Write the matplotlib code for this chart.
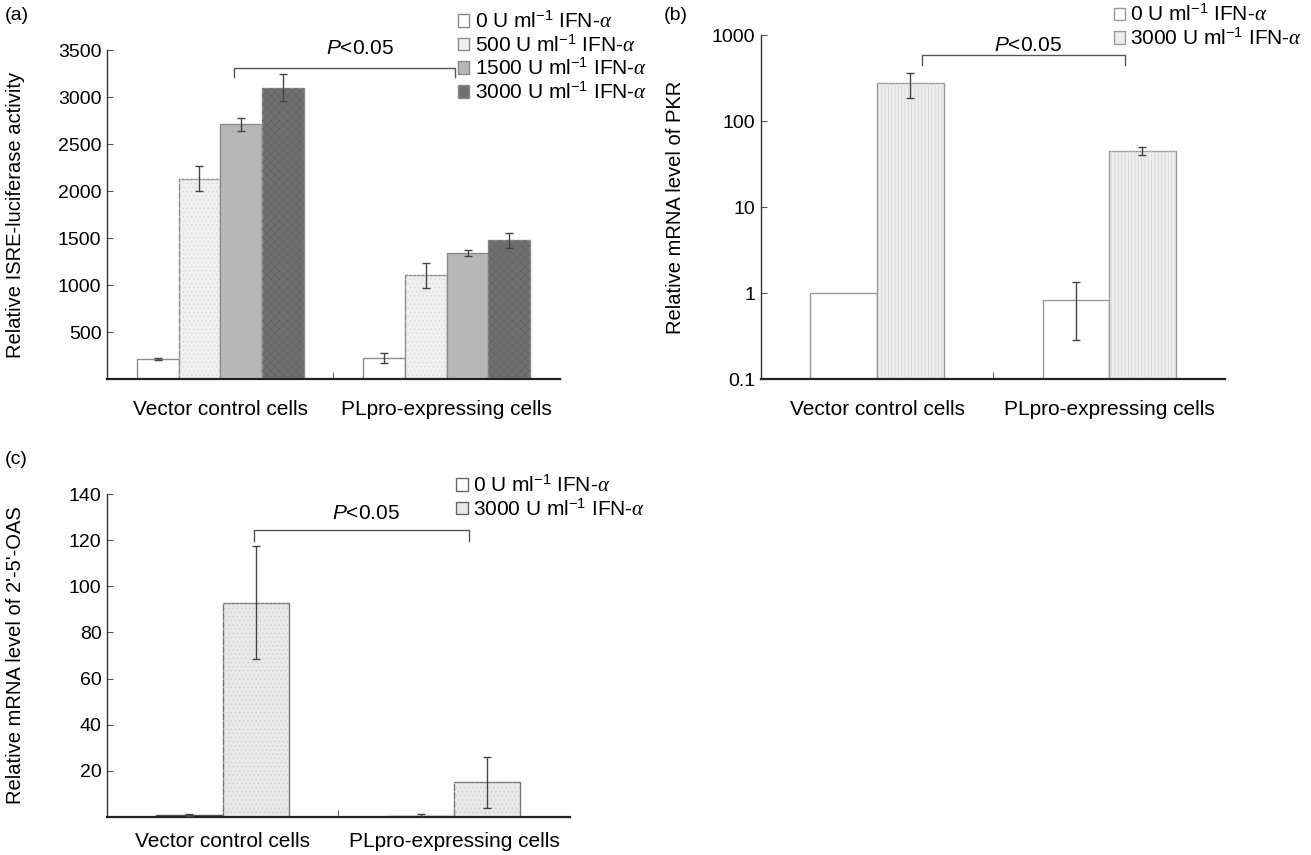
import numpy as np
import matplotlib
matplotlib.use("Agg")
from matplotlib import pyplot as plt
from matplotlib.patches import Patch

plt.rcParams["font.family"] = ["Liberation Sans", "DejaVu Sans"]
plt.rcParams["mathtext.fontset"] = "custom"
plt.rcParams["mathtext.rm"] = "Liberation Sans"
plt.rcParams["mathtext.it"] = "Liberation Serif:italic"
plt.rcParams["mathtext.sf"] = "Liberation Sans:italic"
plt.rcParams["font.size"] = 14
plt.rcParams["hatch.linewidth"] = 0.5

# data
groups = ["Vector control cells", "PLpro-expressing cells"]

doses_a = ["0", "500", "1500", "3000"]
isre_vec = [213, 2132, 2708, 3099]
isre_vec_err = [10, 133, 71, 142]
isre_pl = [224, 1102, 1343, 1475]
isre_pl_err = [55, 130, 32, 76]

doses_bc = ["0", "3000"]
pkr_vec = [1.0, 279]
pkr_vec_lo = [0.0, 93]
pkr_vec_hi = [0.0, 86]
pkr_pl = [0.835, 45]
pkr_pl_lo = [0.55, 5]
pkr_pl_hi = [0.52, 5]

oas_vec = [0.8, 92.9]
oas_vec_err = [0.3, 24.5]
oas_pl = [0.5, 15.1]
oas_pl_err = [0.8, 11.0]

TICK_FS = 14
XLAB_FS = 15
LEG_FS = 15
YLAB_FS = 14.5


def dose_label(d):
    return d + r" U ml$^{-1}$ IFN-$\alpha$"


def style_axes(ax, label_x):
    for s in ["top", "right"]:
        ax.spines[s].set_visible(False)
    ax.spines["left"].set_color("#333333")
    ax.spines["left"].set_linewidth(1.0)
    ax.spines["bottom"].set_color("#222222")
    ax.spines["bottom"].set_linewidth(1.6)
    ax.set_xlim(-0.5, 1.5)
    ax.set_xticks([0, 1])
    ax.set_xticklabels(groups, fontsize=XLAB_FS)
    ax.tick_params(axis="x", which="major", length=0, pad=15)
    ax.set_xticks([0.5], minor=True)
    ax.tick_params(axis="x", which="minor", direction="in", length=5,
                   color="#444444")
    ax.tick_params(axis="y", which="major", direction="in", length=4,
                   color="#555555", labelsize=TICK_FS, pad=4)
    ax.yaxis.set_label_coords(label_x, 0.5)


def bracket(ax, x1, x2, y_top, y_low, tx, ty):
    ax.plot([x1, x1, x2, x2], [y_low, y_top, y_top, y_low], color="#555555",
            lw=1.0, clip_on=False)
    ax.text(tx, ty, r"$\mathsf{P}$<0.05", ha="center", va="center",
            fontsize=15)


def draw_bars(ax, xs, vals, err, w, face, edge, hatch, hatch_col):
    ax.bar(xs, vals, width=w, color=face, edgecolor=edge, linewidth=1.0,
           zorder=2)
    if hatch:
        ax.bar(xs, vals, width=w, color="none", edgecolor=hatch_col,
               hatch=hatch, linewidth=0, zorder=2)
    err = np.atleast_2d(np.asarray(err, dtype=float))
    keep = err.sum(axis=0) > 0
    xs = np.asarray(xs)[keep]
    vals = np.asarray(vals)[keep]
    err = err[:, keep]
    if err.shape[0] == 1:
        err = err[0]
    ax.errorbar(xs, vals, yerr=err, fmt="none", ecolor="#444444",
                elinewidth=1.0, capsize=3, capthick=1.0, zorder=3)


def add_legend(ax, handles, labels, anchor):
    ax.legend(handles, labels, loc="upper left", bbox_to_anchor=anchor,
              frameon=False, handlelength=0.55, handleheight=0.55,
              handletextpad=0.25, labelspacing=0.12, borderaxespad=0,
              borderpad=0, fontsize=LEG_FS)


fig = plt.figure(figsize=(13.11, 8.55), dpi=100)

# (a)
ax_a = fig.add_axes([0.0816, 0.5567, 0.3455, 0.3848])
w_a = 0.184
faces_a = ["white", "#efefef", "#b7b7b7", "#707070"]
hatches_a = [None, "....", None, "xxxx"]
hcols_a = [None, "#d9d9d9", None, "#646464"]
for i in range(4):
    xs = np.array([0, 1]) + (i - 1.5) * w_a
    draw_bars(ax_a, xs, [isre_vec[i], isre_pl[i]],
              [isre_vec_err[i], isre_pl_err[i]], w_a, faces_a[i], "#8a8a8a",
              hatches_a[i], hcols_a[i])
ax_a.set_ylim(0, 3500)
ax_a.set_yticks(np.arange(500, 3501, 500))
ax_a.set_ylabel("Relative ISRE-luciferase activity", fontsize=YLAB_FS)
style_axes(ax_a, -0.181)
bracket(ax_a, 0.062, 1.035, 3305, 3209, 0.616, 3520)
handles_a = [Patch(facecolor=faces_a[i], edgecolor="#8a8a8a")
             for i in range(4)]
add_legend(ax_a, handles_a, [dose_label(d) for d in doses_a], (0.775, 1.12))
fig.text(0.004, 0.992, "(a)", fontsize=14, va="top", ha="left")

# (b)
ax_b = fig.add_axes([0.5805, 0.5567, 0.354, 0.4023])
w_b = 0.287
faces_b = ["white", "#eeeeee"]
hatches_b = [None, "|||||"]
hcols_b = [None, "#d6d6d6"]
for i in range(2):
    xs = np.array([0, 1]) + (i - 0.5) * w_b
    yerr = [[pkr_vec_lo[i], pkr_pl_lo[i]], [pkr_vec_hi[i], pkr_pl_hi[i]]]
    draw_bars(ax_b, xs, [pkr_vec[i], pkr_pl[i]], yerr, w_b, faces_b[i],
              "#999999", hatches_b[i], hcols_b[i])
ax_b.set_yscale("log")
ax_b.set_ylim(0.1, 1000)
ax_b.set_yticks([0.1, 1, 10, 100, 1000])
ax_b.set_yticklabels(["0.1", "1", "10", "100", "1000"])
ax_b.yaxis.set_minor_locator(matplotlib.ticker.NullLocator())
ax_b.set_ylabel("Relative mRNA level of PKR", fontsize=YLAB_FS)
style_axes(ax_b, -0.164)
bracket(ax_b, 0.193, 1.069, 583, 444, 0.649, 760)
handles_b = [Patch(facecolor=faces_b[i], edgecolor="#999999")
             for i in range(2)]
add_legend(ax_b, handles_b, [dose_label(d) for d in doses_bc], (0.76, 1.09))
fig.text(0.506, 0.992, "(b)", fontsize=14, va="top", ha="left")

# (c)
ax_c = fig.add_axes([0.0816, 0.0444, 0.353, 0.3778])
w_c = 0.287
faces_c = ["#555555", "#e8e8e8"]
edges_c = ["#555555", "#777777"]
hatches_c = [None, "...."]
hcols_c = [None, "#cfcfcf"]
for i in range(2):
    xs = np.array([0, 1]) + (i - 0.5) * w_c
    draw_bars(ax_c, xs, [oas_vec[i], oas_pl[i]],
              [oas_vec_err[i], oas_pl_err[i]], w_c, faces_c[i], edges_c[i],
              hatches_c[i], hcols_c[i])
ax_c.set_ylim(0, 140)
ax_c.set_yticks(np.arange(20, 141, 20))
ax_c.set_ylabel("Relative mRNA level of 2'-5'-OAS", fontsize=YLAB_FS)
style_axes(ax_c, -0.177)
ax_c.tick_params(axis="x", which="major", pad=11)
bracket(ax_c, 0.135, 1.066, 124.5, 119.6, 0.62, 131.4)
handles_c = [Patch(facecolor=c, edgecolor="#666666")
             for c in ["white", "#e8e8e8"]]
add_legend(ax_c, handles_c, [dose_label(d) for d in doses_bc], (0.755, 1.06))
fig.text(0.004, 0.463, "(c)", fontsize=14, va="center", ha="left")

fig.savefig("out.png", dpi=100)
